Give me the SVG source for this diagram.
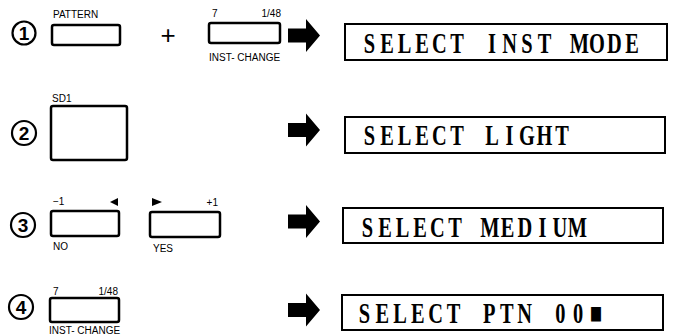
<svg xmlns="http://www.w3.org/2000/svg" width="673" height="335" viewBox="0 0 673 335">
<defs>
<style>
.btn{fill:#fff;stroke:#000;stroke-width:2.5}
.disp{fill:#fff;stroke:#000;stroke-width:2}
.lbl{font-family:"Liberation Sans",Arial,sans-serif;font-size:10px;fill:#000}
.num{fill:#fff;stroke:#000;stroke-width:2.2}
.numt{font-family:"Liberation Sans",Arial,sans-serif;font-size:19px;font-weight:bold;fill:#000;text-anchor:middle}
.lcd{font-family:"Liberation Serif","Times New Roman",serif;font-size:30px;font-weight:bold;fill:#000;text-anchor:middle}
</style>
<path id="arrow" d="M0,-7 H18 V-16.5 L32,0 L18,16.5 V7 H0 Z"/>
</defs>

<g id="step1">
  <g id="n1"><circle class="num" cx="24" cy="33" r="11.5"/><text class="numt" x="24" y="40">1</text></g>
  <g id="pattern"><text class="lbl" x="53" y="18" font-size="9.5">PATTERN</text><rect class="btn" x="52" y="25" width="68" height="20" rx="2"/></g>
  <text id="plus" x="168" y="44" font-family="Liberation Sans,Arial,sans-serif" font-size="26" text-anchor="middle">+</text>
  <g id="instchange1"><text class="lbl" x="212" y="17">7</text><text class="lbl" x="281" y="17" text-anchor="end">1/48</text><rect class="btn" x="209" y="23" width="71" height="20" rx="2"/><text class="lbl" x="209" y="61" font-size="10.5">INST- CHANGE</text></g>
  <g id="disp1"><rect class="disp" x="345" y="24" width="322" height="36"/><text class="lcd" transform="translate(363,53) scale(0.68,1)" x="9.56 35.29 61.03 86.76 112.5 138.23 163.97 189.7 215.44 241.17 266.91 292.64 318.38 344.11 369.85 395.58" y="0">SELECT INST MODE</text></g>
</g>

<g id="step2">
  <g id="n2"><circle class="num" cx="24" cy="133" r="12"/><text class="numt" x="24" y="140">2</text></g>
  <g id="sd1"><text class="lbl" x="52" y="102">SD1</text><rect class="btn" x="51" y="106" width="76" height="54" rx="2"/></g>
  <g id="disp2"><rect class="disp" x="345" y="117" width="320" height="36"/><text class="lcd" transform="translate(363,145) scale(0.68,1)" x="9.56 35.29 61.03 86.76 112.5 138.23 163.97 189.7 215.44 241.17 266.91 292.64" y="0">SELECT LIGHT</text></g>
</g>

<g id="step3">
  <g id="n3"><circle class="num" cx="23" cy="225" r="12"/><text class="numt" x="23" y="232">3</text></g>
  <g id="no"><text class="lbl" x="53" y="205" font-size="9">−1</text><polygon points="110,202 118,198 118,206"/><rect class="btn" x="51" y="211" width="68" height="25" rx="2"/><text class="lbl" x="53" y="250" font-size="9">NO</text></g>
  <g id="yes"><polygon points="152,198 162,202 152,206"/><text class="lbl" x="218" y="206" font-size="9" text-anchor="end">+1</text><rect class="btn" x="150" y="212" width="70" height="25" rx="2"/><text class="lbl" x="153" y="252" font-size="9">YES</text></g>
  <g id="disp3"><rect class="disp" x="343" y="208" width="320" height="35"/><text class="lcd" transform="translate(361,237) scale(0.68,1)" x="9.56 35.29 61.03 86.76 112.5 138.23 163.97 189.7 215.44 241.17 266.91 292.64 318.38" y="0">SELECT MEDIUM</text></g>
</g>

<g id="step4">
  <g id="n4"><circle class="num" cx="21" cy="307" r="12"/><text class="numt" x="21" y="314">4</text></g>
  <g id="instchange2"><text class="lbl" x="53" y="295" font-size="9.5">7</text><text class="lbl" x="118" y="295" font-size="9.5" text-anchor="end">1/48</text><rect class="btn" x="50" y="298" width="69" height="24" rx="2"/><text class="lbl" x="49" y="334" font-size="9.6">INST- CHANGE</text></g>
  <g id="disp4"><rect class="disp" x="342" y="295" width="321" height="35"/><text class="lcd" transform="translate(358,323) scale(0.68,1)" x="9.56 35.74 61.92 88.1 114.28 140.46 166.64 192.82 219 245.18 271.36 297.54 323.72 349.9" y="0">SELECT PTN 00■</text></g>
</g>

<g id="connectors">
  <use href="#arrow" x="288" y="35.5"/>
  <use href="#arrow" x="288" y="130"/>
  <use href="#arrow" x="288" y="221.5"/>
  <use href="#arrow" x="288" y="310"/>
</g>
</svg>
